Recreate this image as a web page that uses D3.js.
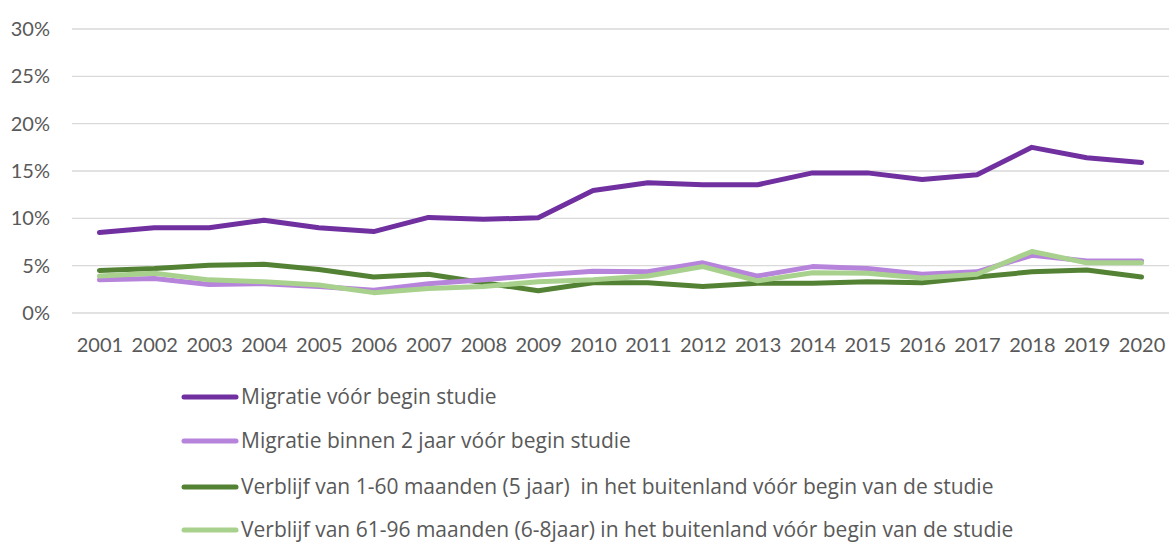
<!DOCTYPE html>
<html>
<head>
<meta charset="utf-8">
<script src="https://cdn.jsdelivr.net/npm/d3@7"></script>
<style>
  body { margin: 0; background: #fff; }
  text { fill: #595959; }
</style>
</head>
<body>
<div id="app"></div>
<script>
const years = ["2001","2002","2003","2004","2005","2006","2007","2008","2009","2010",
  "2011","2012","2013","2014","2015","2016","2017","2018","2019","2020"];

const migratieVoor = [8.5, 9.0, 9.0, 9.8, 9.0, 8.6, 10.1, 9.9, 10.05, 12.95,
  13.75, 13.55, 13.55, 14.8, 14.8, 14.1, 14.6, 17.5, 16.4, 15.9];
const migratieBinnen2 = [3.5, 3.65, 3.0, 3.1, 2.8, 2.4, 3.1, 3.5, 4.0, 4.4,
  4.35, 5.3, 3.9, 4.9, 4.7, 4.1, 4.35, 6.1, 5.5, 5.5];
const verblijf1tot60 = [4.5, 4.7, 5.05, 5.15, 4.6, 3.8, 4.1, 3.2, 2.35, 3.2,
  3.2, 2.8, 3.15, 3.15, 3.3, 3.2, 3.8, 4.35, 4.55, 3.8];
const verblijf61tot96 = [3.9, 4.2, 3.5, 3.3, 2.95, 2.15, 2.6, 2.8, 3.3, 3.5,
  3.9, 4.9, 3.4, 4.25, 4.2, 3.7, 4.1, 6.5, 5.3, 5.3];

const yTicks = [0, 5, 10, 15, 20, 25, 30];

const series = [
  { name: "Migratie vóór begin studie", values: migratieVoor, color: "#7030a0" },
  { name: "Migratie binnen 2 jaar vóór begin studie", values: migratieBinnen2, color: "#b784dc" },
  { name: "Verblijf van 1-60 maanden (5 jaar)  in het buitenland vóór begin van de studie", values: verblijf1tot60, color: "#548235" },
  { name: "Verblijf van 61-96 maanden (6-8jaar) in het buitenland vóór begin van de studie", values: verblijf61tot96, color: "#a9d18e" }
];
// draw order: light lines on top of the dark green, like the original
const drawOrder = [0, 2, 1, 3];

const width = 1170, height = 542;
const plotLeft = 72, plotRight = 1169, plotTop = 29, plotBottom = 313;

const svg = d3
  .create("svg")
  .attr("width", width)
  .attr("height", height);

const x = d3.scalePoint().domain(years).range([plotLeft, plotRight]).padding(0.5);
const y = d3.scaleLinear().domain([0, 30]).range([plotBottom, plotTop]);

// gridlines
svg
  .append("g")
  .selectAll("line")
  .data(yTicks)
  .join("line")
  .attr("x1", plotLeft)
  .attr("x2", plotRight)
  .attr("y1", (d) => y(d))
  .attr("y2", (d) => y(d))
  .attr("stroke", "#d9d9d9")
  .attr("stroke-width", 1.3);

// y axis labels
const yAxis = svg
  .append("g")
  .attr("transform", `translate(${plotLeft - 22},0)`)
  .call(d3.axisLeft(y).tickValues(yTicks).tickFormat((d) => d + "%").tickSize(0).tickPadding(0));
yAxis.select(".domain").remove();
yAxis.selectAll("text").attr("font-size", 20).attr("fill", "#595959").attr("font-family", "Lato, sans-serif");

// x axis labels
const xAxis = svg
  .append("g")
  .attr("transform", `translate(0,${plotBottom + 25})`)
  .call(d3.axisBottom(x).tickSize(0).tickPadding(0));
xAxis.select(".domain").remove();
xAxis.selectAll("text").attr("font-size", 20).attr("fill", "#595959").attr("font-family", "Lato, sans-serif");

const line = d3
  .line()
  .x((d, i) => x(years[i]))
  .y((d) => y(d));

drawOrder.forEach((k) => {
  const s = series[k];
  svg
    .append("path")
    .attr("d", line(s.values))
    .attr("fill", "none")
    .attr("stroke", s.color)
    .attr("stroke-width", 5)
    .attr("stroke-linejoin", "round")
    .attr("stroke-linecap", "round");
});

// legend
const legendY = [397, 441, 487, 530];
const legend = svg
  .append("g")
  .selectAll("g")
  .data(series)
  .join("g")
  .attr("transform", (d, i) => `translate(182,${legendY[i]})`);

legend
  .append("line")
  .attr("x1", 2)
  .attr("x2", 54)
  .attr("stroke", (d) => d.color)
  .attr("stroke-width", 5)
  .attr("stroke-linecap", "round");

legend
  .append("text")
  .attr("x", 59)
  .attr("dy", "0.35em")
  .attr("font-size", 21)
  .attr("font-family", "'Open Sans', sans-serif")
  .style("white-space", "pre")
  .text((d) => d.name);

document.getElementById("app").append(svg.node());
</script>
</body>
</html>
